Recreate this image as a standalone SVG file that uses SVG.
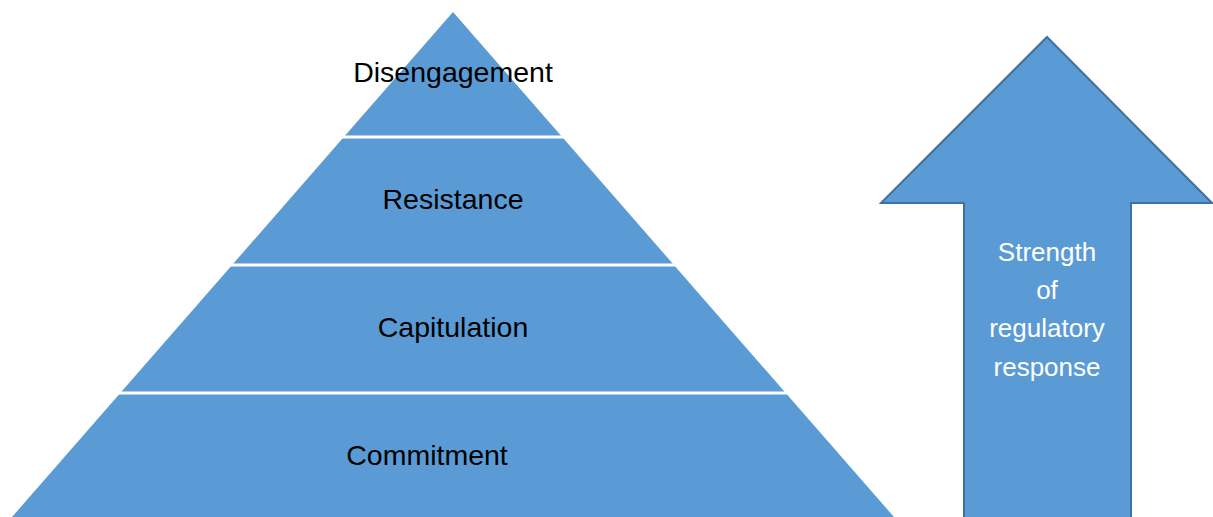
<svg xmlns="http://www.w3.org/2000/svg" width="1213" height="517" viewBox="0 0 1213 517">
  <style>
    .band { fill: #5B9BD5; }
    .sep { stroke: #FFFFFF; stroke-width: 3; }
    .lbl { font-family: "Liberation Sans", Arial, sans-serif; font-size: 28.5px; fill: #000000; text-anchor: middle; }
    .arrow { fill: #5B9BD5; stroke: #41719C; stroke-width: 2; stroke-linejoin: miter; }
    .alb { font-family: "Liberation Sans", Arial, sans-serif; font-size: 26px; fill: #FFFFFF; text-anchor: middle; }
  </style>
  <rect width="1213" height="517" fill="#FFFFFF"/>

  <!-- pyramid tiers, top to bottom -->
  <g id="disengagement">
    <polygon class="band" points="453,12 562.2,137 343.8,137"/>
    <text class="lbl" x="453" y="82">Disengagement</text>
  </g>
  <g id="resistance">
    <polygon class="band" points="343.8,137 562.2,137 673.9,265 232.1,265"/>
    <text class="lbl" x="453" y="209">Resistance</text>
  </g>
  <g id="capitulation">
    <polygon class="band" points="232.1,265 673.9,265 785.7,393 120.3,393"/>
    <text class="lbl" x="453" y="337">Capitulation</text>
  </g>
  <g id="commitment">
    <polygon class="band" points="120.3,393 785.7,393 894,517 12,517"/>
    <text class="lbl" x="427" y="465">Commitment</text>
  </g>

  <!-- white gaps between tiers -->
  <g id="connectors">
    <line class="sep" x1="340" y1="137" x2="566" y2="137"/>
    <line class="sep" x1="228" y1="265" x2="678" y2="265"/>
    <line class="sep" x1="116" y1="393" x2="790" y2="393"/>
  </g>

  <!-- upward arrow -->
  <g id="strength-arrow">
    <polygon class="arrow" points="1047,37 1212,203 1131,203 1131,520 964,520 964,203 881,203"/>
    <text class="alb" x="1047" y="261">Strength</text>
    <text class="alb" x="1047" y="299">of</text>
    <text class="alb" x="1047" y="337">regulatory</text>
    <text class="alb" x="1047" y="376">response</text>
  </g>
</svg>
